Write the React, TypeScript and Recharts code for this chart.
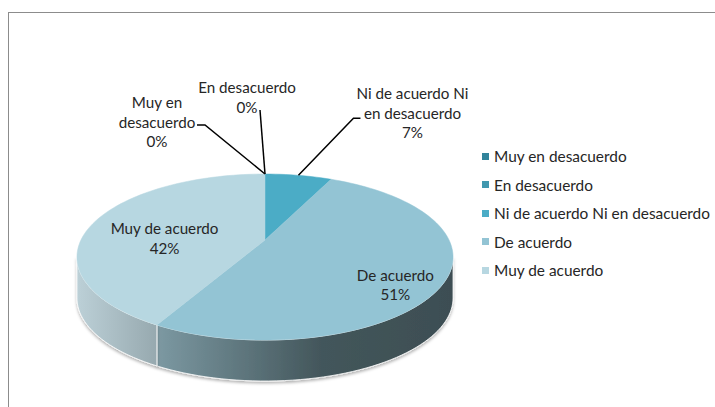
import { PieChart, Pie, Legend } from "recharts";

const categories = [
  "Muy en desacuerdo",
  "En desacuerdo",
  "Ni de acuerdo Ni en desacuerdo",
  "De acuerdo",
  "Muy de acuerdo",
];
const percents = [0, 0, 7, 51, 42];
const colors = ["#31849B", "#4198AF", "#4BACC6", "#93C4D4", "#B7D7E1"];

const data = categories.map((name, i) => ({ name, value: percents[i], fill: colors[i] }));

const FONT = "Lato, 'Open Sans', sans-serif";
const TEXT = "#262626";
// simple perspective for the tilted disc
const PERSP = 0.205;
const SX = 0.979;
const SY = 0.423;
const DEPTH = 41;
const EDGE = (Math.asin(PERSP) * 180) / Math.PI; // silhouette angle

// inside labels: radial factor + nudge; outside labels: offsets from the rim point
const labelLayout: any[] = [
  { text: [-108, -72], line: [[-60, -49], [-68, -49]] },
  { text: [-18, -87], line: [[-5, -64]] },
  { text: [114, -82], line: [[55, -57], [62, -57]] },
  { k: 0.74, dy: 16 },
  { k: 0.58, dy: 9 },
];

const rad = (a: number) => (a * Math.PI) / 180;
const proj = (cx: number, cy: number, r: number, a: number, k = 1) => {
  const u = k * Math.cos(rad(a));
  const v = k * Math.sin(rad(a));
  const w = 1 + PERSP * v;
  return [cx + (r * SX * u) / w, cy - (r * SY * v) / w];
};
const arc = (cx: number, cy: number, r: number, a1: number, a2: number, dy = 0) => {
  const n = Math.max(2, Math.ceil(Math.abs(a2 - a1) / 2));
  const pts: number[][] = [];
  for (let j = 0; j <= n; j++) {
    const [x, y] = proj(cx, cy, r, a1 + ((a2 - a1) * j) / n);
    pts.push([x, y + dy]);
  }
  return pts;
};

const shade = (hex: string, f: number, gray = 0.15) => {
  const n = parseInt(hex.slice(1), 16);
  const c = [(n >> 16) & 255, (n >> 8) & 255, n & 255];
  const avg = (c[0] + c[1] + c[2]) / 3;
  return `rgb(${c.map((v) => Math.round((v * (1 - gray) + avg * gray) * f)).join(",")})`;
};

const wrap = (s: string, max = 16) => {
  const out: string[] = [];
  let cur = "";
  s.split(" ").forEach((w) => {
    if (cur && (cur + " " + w).length > max) {
      out.push(cur);
      cur = w;
    } else cur = cur ? cur + " " + w : w;
  });
  if (cur) out.push(cur);
  return out;
};

const SideShape = (props: any) => {
  const { cx, cy, outerRadius: r, startAngle, endAngle, fill } = props;
  const i = categories.indexOf(props.payload?.name ?? props.name);
  const lo = Math.max(Math.min(startAngle, endAngle), -180 + EDGE);
  const hi = Math.min(Math.max(startAngle, endAngle), -EDGE);
  if (hi - lo <= 0) return <g />;
  const top = arc(cx, cy, r, lo, hi);
  const bottom = arc(cx, cy, r, hi, lo, DEPTH);
  const d = "M" + [...top, ...bottom].map((q) => q.join(",")).join(" L") + " Z";
  const gid = `side-${i}`;
  return (
    <g>
      <defs>
        <linearGradient id={gid} gradientUnits="userSpaceOnUse" x1={cx - r} y1={0} x2={cx + r} y2={0}>
          <stop offset="0%" stopColor={shade(fill, 0.98, 0.35)} />
          <stop offset="25%" stopColor={shade(fill, 0.76, 0.25)} />
          <stop offset="65%" stopColor={shade(fill, 0.44, 0.15)} />
          <stop offset="100%" stopColor={shade(fill, 0.4, 0.15)} />
        </linearGradient>
        <filter id={`sh-${i}`} x="-10%" y="-10%" width="120%" height="140%">
          <feDropShadow dx="0" dy="2" stdDeviation="1.5" floodColor="#000" floodOpacity="0.3" />
        </filter>
      </defs>
      <path d={d} fill={`url(#${gid})`} stroke="#fff" strokeWidth={0.8} filter={`url(#sh-${i})`} />
    </g>
  );
};

const TopShape = (props: any) => {
  const { cx, cy, outerRadius: r, startAngle, endAngle, fill } = props;
  if (Math.abs(startAngle - endAngle) <= 0) return <g />;
  const pts = [[cx, cy], ...arc(cx, cy, r, startAngle, endAngle)];
  const d = "M" + pts.map((q) => q.join(",")).join(" L") + " Z";
  return <path d={d} fill={fill} stroke={fill} strokeWidth={0.5} />;
};

const renderLabel = (p: any) => {
  const i = categories.indexOf(p.name ?? p.payload?.name);
  const lay = labelLayout[i];
  const lines = [...wrap(categories[i]), `${Math.round(p.percent * 100)}%`];
  const lh = 19.5;
  let tx: number, ty: number;
  let leader = null;
  if (lay.k) {
    const [x, y] = proj(p.cx, p.cy, p.outerRadius, p.midAngle, lay.k);
    tx = x;
    ty = y + lay.dy - ((lines.length - 1) * lh) / 2;
  } else {
    const [ax, ay] = proj(p.cx, p.cy, p.outerRadius, p.midAngle, 1);
    tx = ax + lay.text[0];
    ty = ay + lay.text[1];
    const pts = [[ax, ay], ...lay.line.map((o: number[]) => [ax + o[0], ay + o[1]])];
    leader = <polyline points={pts.map((q) => q.join(",")).join(" ")} fill="none" stroke="#000" strokeWidth={1.5} />;
  }
  return (
    <g key={`lbl-${i}`}>
      {leader}
      <text x={tx} y={ty} textAnchor="middle" dominantBaseline="central" fontFamily={FONT} fontSize={15.2} fill={TEXT}>
        {lines.map((l, j) => (
          <tspan key={j} x={tx} dy={j === 0 ? 0 : lh}>
            {l}
          </tspan>
        ))}
      </text>
    </g>
  );
};

const renderLegend = (props: any) => {
  const seen = new Set<string>();
  const items = (props.payload || [])
    .filter((e: any) => {
      if (seen.has(e.value)) return false;
      seen.add(e.value);
      return true;
    })
    .sort((a: any, b: any) => categories.indexOf(a.value) - categories.indexOf(b.value));
  return (
    <div style={{ fontFamily: FONT, fontSize: 15.4, color: TEXT }}>
      {items.map((e: any) => (
        <div key={e.value} style={{ display: "flex", alignItems: "center", height: 28.5, whiteSpace: "nowrap" }}>
          <span style={{ width: 7, height: 7, background: e.color, marginRight: 5, display: "inline-block" }} />
          {e.value}
        </div>
      ))}
    </div>
  );
};

export default function App() {
  return (
    <div style={{ position: "absolute", left: 0, top: 0, width: 715, height: 407, overflow: "hidden", background: "#fff" }}>
      <div
        style={{
          position: "absolute",
          left: 8,
          top: 12,
          width: 800,
          height: 500,
          border: "1px solid #8c8c8c",
          boxSizing: "border-box",
        }}
      />
      <div style={{ position: "absolute", left: 0, top: 0 }}>
        <PieChart width={715} height={407} margin={{ top: 0, right: 0, bottom: 0, left: 0 }}>
          <Pie
            data={data}
            dataKey="value"
            nameKey="name"
            cx={265}
            cy={240}
            outerRadius={188}
            startAngle={90}
            endAngle={-270}
            stroke="none"
            shape={SideShape}
            legendType="none"
            isAnimationActive={false}
          />
          <Pie
            data={data}
            dataKey="value"
            nameKey="name"
            cx={265}
            cy={240}
            outerRadius={188}
            startAngle={90}
            endAngle={-270}
            stroke="none"
            shape={TopShape}
            label={renderLabel}
            labelLine={false}
            legendType="square"
            isAnimationActive={false}
          />
          <Legend
            layout="vertical"
            align="center"
            verticalAlign="middle"
            content={renderLegend}
            wrapperStyle={{ position: "absolute", left: 482, top: 142, width: 233 }}
          />
        </PieChart>
      </div>
    </div>
  );
}
